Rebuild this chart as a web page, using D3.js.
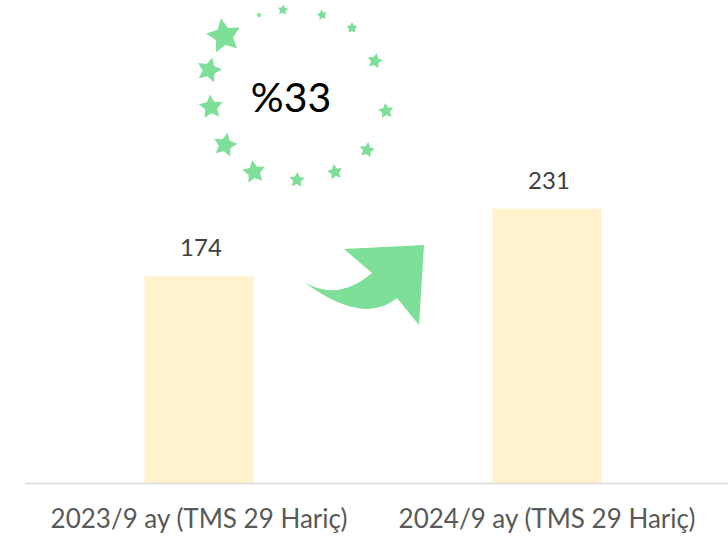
<!DOCTYPE html>
<html>
<head>
<meta charset="utf-8">
<script src="https://cdn.jsdelivr.net/npm/d3@7"></script>
<style>
  body { margin: 0; background: #fff; }
  svg { display: block; font-family: Lato, "Open Sans", sans-serif; }
</style>
</head>
<body>
<svg id="chart" width="728" height="540"></svg>
<script>
// chart data
const categories = ["2023/9 ay (TMS 29 Hariç)", "2024/9 ay (TMS 29 Hariç)"];
const values = [174, 231];
const growthLabel = "%33";

const width = 728;
const green = "#7ddf98";

const svg = d3.select("#chart");

// scales
const x = d3.scaleBand()
  .domain(categories)
  .range([25, 721])
  .paddingInner(0.687)
  .paddingOuter(0.3435);

const y = d3.scaleLinear()
  .domain([0, 400])
  .range([483, 8]);

// bars
svg.selectAll(".bar")
  .data(values)
  .enter()
  .append("rect")
  .attr("class", "bar")
  .attr("x", (d, i) => x(categories[i]))
  .attr("y", d => y(d))
  .attr("width", x.bandwidth())
  .attr("height", d => y(0) - y(d))
  .attr("fill", "#fff2cc");

// value labels
svg.selectAll(".val")
  .data(values)
  .enter()
  .append("text")
  .attr("class", "val")
  .attr("x", (d, i) => x(categories[i]) + x.bandwidth() / 2 + 2)
  .attr("y", d => y(d) - 20)
  .attr("text-anchor", "middle")
  .attr("font-size", 24)
  .attr("fill", "#404040")
  .text(d => d);

// x axis
const xAxis = svg.append("g")
  .attr("transform", `translate(0,${y(0)})`)
  .call(d3.axisBottom(x).tickSize(0).tickSizeOuter(0));

xAxis.select(".domain")
  .attr("d", `M25,0.5H${width}`)
  .attr("stroke", "#d9d9d9")
  .attr("stroke-width", 1.5);

xAxis.selectAll(".tick text")
  .attr("y", 45)
  .attr("dy", 0)
  .attr("font-family", "Lato, 'Open Sans', sans-serif")
  .attr("font-size", 26)
  .attr("fill", "#595959");

// decoration: ring of stars around the growth figure
const stars = [
  { cx: 224, cy: 36, r: 18, rot: -10 }, { cx: 209, cy: 70, r: 13, rot: 15 },
  { cx: 211, cy: 107, r: 12.5, rot: -5 }, { cx: 225, cy: 145, r: 12.5, rot: 12 },
  { cx: 254, cy: 172, r: 12, rot: -8 }, { cx: 297, cy: 180, r: 8, rot: 4 },
  { cx: 335, cy: 172, r: 8, rot: -10 }, { cx: 367, cy: 150, r: 8, rot: 10 },
  { cx: 386, cy: 111, r: 8, rot: -6 }, { cx: 375, cy: 61, r: 8, rot: 12 },
  { cx: 352, cy: 28, r: 6, rot: 0 }, { cx: 322, cy: 15, r: 5.5, rot: -10 },
  { cx: 283, cy: 10, r: 5.5, rot: 6 }, { cx: 259, cy: 15, r: 3, rot: 0 }
];

function starPath(r) {
  const pts = d3.range(10).map(i => {
    const a = -Math.PI / 2 + i * Math.PI / 5;
    const rr = i % 2 ? r * 0.5 : r;
    return [rr * Math.cos(a), rr * Math.sin(a)];
  });
  return "M" + pts.join("L") + "Z";
}

svg.selectAll(".star")
  .data(stars)
  .enter()
  .append("path")
  .attr("class", "star")
  .attr("d", d => starPath(d.r))
  .attr("transform", d => `translate(${d.cx},${d.cy}) rotate(${d.rot})`)
  .attr("fill", green);

svg.append("text")
  .attr("x", 291)
  .attr("y", 112)
  .attr("text-anchor", "middle")
  .attr("font-size", 41)
  .attr("fill", "#000")
  .text(growthLabel);

// curved arrow between the bars
svg.append("path")
  .attr("d", "M304,282 Q338,302 372,273 L344,249 L424,245 L419,325 L397,298 Q363,326 304,282 Z")
  .attr("fill", green);
</script>
</body>
</html>
